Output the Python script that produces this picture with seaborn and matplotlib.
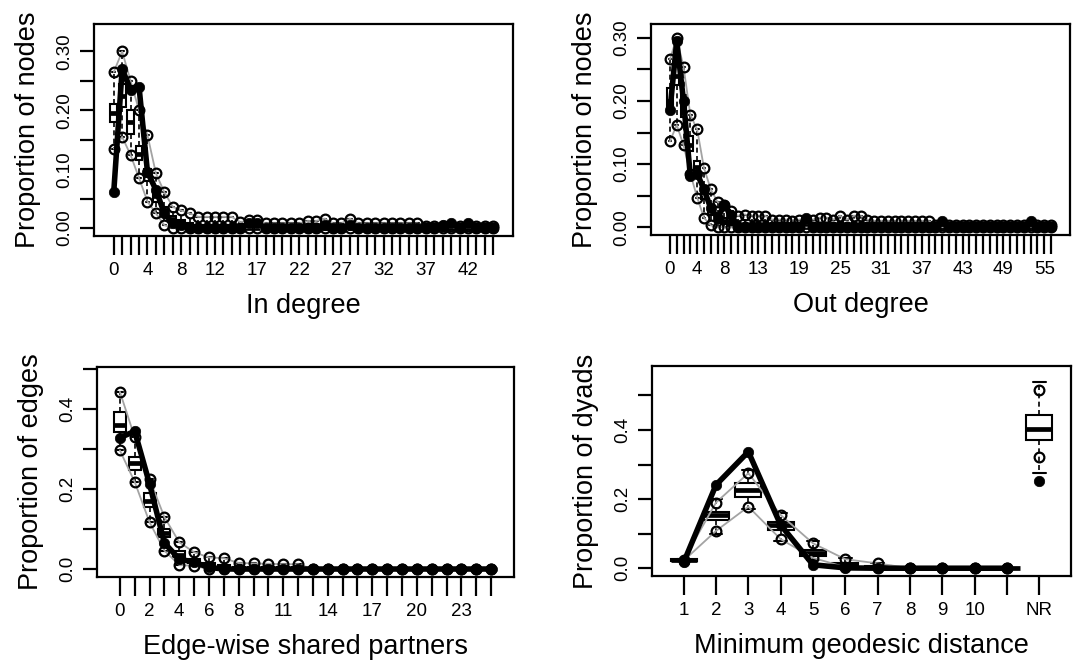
import matplotlib
matplotlib.use("Agg")
import matplotlib.pyplot as plt
import seaborn as sns

# ---- In degree (categories 0..45)
indeg_cat = list(range(46))
indeg_labeled = [0, 4, 8, 12, 17, 22, 27, 32, 37, 42]
indeg_obs = [0.061, 0.270, 0.235, 0.240, 0.095, 0.065, 0.025, 0.008, 0.005, 0,
             0, 0, 0, 0, 0, 0, 0.008, 0.008, 0, 0,
             0, 0, 0, 0, 0, 0.005, 0, 0, 0.005, 0,
             0, 0, 0, 0, 0, 0, 0, 0, 0, 0.005,
             0.008, 0, 0.008, 0, 0, 0]
indeg_hi = [0.265, 0.300, 0.250, 0.200, 0.158, 0.093, 0.061, 0.036, 0.030, 0.025,
            0.019, 0.019, 0.019, 0.019, 0.019, 0.010, 0.013, 0.013, 0.008, 0.008,
            0.008, 0.008, 0.008, 0.012, 0.012, 0.016, 0.008, 0.008, 0.016, 0.008,
            0.008, 0.008, 0.008, 0.008, 0.008, 0.008, 0.008, 0.003, 0.003, 0.003,
            0.003, 0.003, 0.003, 0.003, 0.003, 0.003]
indeg_lo = [0.135, 0.155, 0.124, 0.085, 0.045, 0.025, 0.005, 0, 0, 0,
            0, 0, 0, 0, 0, 0, 0, 0, 0, 0,
            0, 0, 0, 0, 0, 0, 0, 0, 0, 0,
            0, 0, 0, 0, 0, 0, 0, 0, 0, 0,
            0, 0, 0, 0, 0, 0]
indeg_med = [0.195, 0.225, 0.180, 0.125, 0.090, 0.055, 0.030, 0.015, 0.008, 0.005,
             0, 0, 0, 0, 0, 0, 0, 0, 0, 0,
             0, 0, 0, 0, 0, 0, 0, 0, 0, 0,
             0, 0, 0, 0, 0, 0, 0, 0, 0, 0,
             0, 0, 0, 0, 0, 0]
indeg_q1 = [0.180, 0.205, 0.160, 0.115, 0.080, 0.045, 0.020, 0.010, 0.005, 0,
            0, 0, 0, 0, 0, 0, 0, 0, 0, 0,
            0, 0, 0, 0, 0, 0, 0, 0, 0, 0,
            0, 0, 0, 0, 0, 0, 0, 0, 0, 0,
            0, 0, 0, 0, 0, 0]
indeg_q3 = [0.210, 0.245, 0.200, 0.140, 0.100, 0.065, 0.035, 0.020, 0.013, 0.008,
            0.005, 0.005, 0.005, 0.005, 0.005, 0.003, 0.003, 0.003, 0, 0,
            0, 0, 0, 0, 0, 0, 0, 0, 0, 0,
            0, 0, 0, 0, 0, 0, 0, 0, 0, 0,
            0, 0, 0, 0, 0, 0]

# ---- Out degree (categories 0..56)
outdeg_cat = list(range(57))
outdeg_labeled = [0, 4, 8, 13, 19, 25, 31, 37, 43, 49, 55]
outdeg_obs = [0.185, 0.295, 0.200, 0.081, 0.085, 0.060, 0.030, 0.015, 0.035, 0.020,
              0, 0, 0, 0, 0, 0, 0, 0, 0, 0,
              0.015, 0, 0, 0, 0, 0, 0, 0, 0, 0,
              0, 0, 0, 0, 0, 0, 0, 0, 0, 0,
              0.010, 0, 0, 0, 0, 0, 0, 0, 0, 0,
              0, 0, 0, 0.010, 0, 0, 0]
outdeg_hi = [0.266, 0.300, 0.254, 0.178, 0.155, 0.094, 0.060, 0.040, 0.035, 0.025,
             0.018, 0.020, 0.018, 0.018, 0.018, 0.012, 0.012, 0.012, 0.010, 0.012,
             0.012, 0.012, 0.015, 0.015, 0.012, 0.018, 0.012, 0.018, 0.018, 0.012,
             0.010, 0.010, 0.010, 0.010, 0.010, 0.010, 0.010, 0.010, 0.010, 0.004,
             0.004, 0.004, 0.004, 0.004, 0.004, 0.004, 0.004, 0.004, 0.004, 0.004,
             0.004, 0.004, 0.004, 0.004, 0.004, 0.004, 0.004]
outdeg_lo = [0.136, 0.162, 0.130, 0.085, 0.047, 0.015, 0.003, 0, 0, 0,
             0, 0, 0, 0, 0, 0, 0, 0, 0, 0,
             0, 0, 0, 0, 0, 0, 0, 0, 0, 0,
             0, 0, 0, 0, 0, 0, 0, 0, 0, 0,
             0, 0, 0, 0, 0, 0, 0, 0, 0, 0,
             0, 0, 0, 0, 0, 0, 0]
outdeg_med = [0.200, 0.240, 0.190, 0.130, 0.095, 0.055, 0.030, 0.015, 0.010, 0.005,
              0, 0, 0, 0, 0, 0, 0, 0, 0, 0,
              0, 0, 0, 0, 0, 0, 0, 0, 0, 0,
              0, 0, 0, 0, 0, 0, 0, 0, 0, 0,
              0, 0, 0, 0, 0, 0, 0, 0, 0, 0,
              0, 0, 0, 0, 0, 0, 0]
outdeg_q1 = [0.185, 0.225, 0.175, 0.120, 0.085, 0.045, 0.020, 0.010, 0.005, 0,
             0, 0, 0, 0, 0, 0, 0, 0, 0, 0,
             0, 0, 0, 0, 0, 0, 0, 0, 0, 0,
             0, 0, 0, 0, 0, 0, 0, 0, 0, 0,
             0, 0, 0, 0, 0, 0, 0, 0, 0, 0,
             0, 0, 0, 0, 0, 0, 0]
outdeg_q3 = [0.220, 0.260, 0.210, 0.145, 0.105, 0.065, 0.035, 0.020, 0.015, 0.010,
             0.005, 0.005, 0.005, 0.005, 0.005, 0.005, 0, 0, 0, 0,
             0, 0, 0, 0, 0, 0, 0, 0, 0, 0,
             0, 0, 0, 0, 0, 0, 0, 0, 0, 0,
             0, 0, 0, 0, 0, 0, 0, 0, 0, 0,
             0, 0, 0, 0, 0, 0, 0]

# ---- Edge-wise shared partners (categories 0..25)
esp_cat = list(range(26))
esp_labeled = [0, 2, 4, 6, 8, 11, 14, 17, 20, 23]
esp_obs = [0.329, 0.345, 0.213, 0.065, 0.025, 0.017, 0.004, 0, 0, 0,
           0, 0, 0, 0, 0, 0, 0, 0, 0, 0,
           0, 0, 0, 0, 0, 0]
esp_hi = [0.444, 0.330, 0.225, 0.130, 0.067, 0.042, 0.029, 0.027, 0.015, 0.014,
          0.013, 0.012, 0.012, 0, 0, 0, 0, 0, 0, 0,
          0, 0, 0, 0, 0, 0]
esp_lo = [0.297, 0.218, 0.117, 0.046, 0.010, 0.008, 0, 0, 0, 0,
          0, 0, 0, 0, 0, 0, 0, 0, 0, 0,
          0, 0, 0, 0, 0, 0]
esp_med = [0.360, 0.265, 0.170, 0.090, 0.035, 0.020, 0.010, 0.005, 0, 0,
           0, 0, 0, 0, 0, 0, 0, 0, 0, 0,
           0, 0, 0, 0, 0, 0]
esp_q1 = [0.343, 0.247, 0.155, 0.080, 0.030, 0.015, 0.005, 0, 0, 0,
          0, 0, 0, 0, 0, 0, 0, 0, 0, 0,
          0, 0, 0, 0, 0, 0]
esp_q3 = [0.393, 0.280, 0.190, 0.100, 0.045, 0.025, 0.015, 0.010, 0.005, 0.005,
          0.005, 0.005, 0.005, 0, 0, 0, 0, 0, 0, 0,
          0, 0, 0, 0, 0, 0]

# ---- Minimum geodesic distance (1..11, NR)
geo_cat = ["1", "2", "3", "4", "5", "6", "7", "8", "9", "10", "11", "NR"]
geo_labeled = ["1", "2", "3", "4", "5", "6", "7", "8", "9", "10", "NR"]
geo_obs = [0.017, 0.241, 0.337, 0.125, 0.010, 0.001, 0, 0, 0, 0, 0, 0.253]
geo_hi = [0.025, 0.190, 0.275, 0.154, 0.072, 0.026, 0.014, 0, 0, 0, 0, 0.515]
geo_lo = [0.022, 0.108, 0.178, 0.084, 0.030, 0.003, 0, 0, 0, 0, 0, 0.321]
geo_whi = [0.026, 0.200, 0.285, 0.160, 0.078, 0.030, 0.016, 0, 0, 0, 0, 0.540]
geo_wlo = [0.021, 0.100, 0.170, 0.080, 0.025, 0, 0, 0, 0, 0, 0, 0.276]
geo_med = [0.024, 0.155, 0.225, 0.125, 0.045, 0.010, 0.003, 0, 0, 0, 0, 0.402]
geo_q1 = [0.022, 0.140, 0.207, 0.110, 0.034, 0.005, 0, 0, 0, 0, 0, 0.371]
geo_q3 = [0.026, 0.164, 0.246, 0.135, 0.053, 0.015, 0.005, 0, 0, 0, 0, 0.443]


def gof_panel(ax, cats, labeled, med, q1, q3, wlo, whi, lo, hi, obs,
              xlabel, ylabel, yticks, yticklabels, ylim, nline=None):
    pos = list(range(1, len(cats) + 1))
    if nline is None:
        nline = len(pos)
    stats = [dict(med=m, q1=a, q3=b, whislo=wl, whishi=wh)
             for m, a, b, wl, wh in zip(med, q1, q3, wlo, whi)]
    ax.bxp(stats, positions=pos, widths=0.8, showfliers=False,
           patch_artist=True, manage_ticks=False,
           boxprops=dict(facecolor="white", edgecolor="black", linewidth=1.5),
           medianprops=dict(color="black", linewidth=3.4),
           whiskerprops=dict(color="black", linewidth=1.2, linestyle=(0, (3, 2))),
           capprops=dict(color="black", linewidth=1.5), zorder=2)

    circ = dict(color="#a3a3a3", linewidth=1.3, marker="o", markersize=7,
                markerfacecolor="none", markeredgecolor="black",
                markeredgewidth=1.6, zorder=3)
    for q in (lo, hi):
        sns.lineplot(x=pos[:nline], y=q[:nline], ax=ax, **circ)
        if nline < len(pos):
            sns.lineplot(x=pos[nline:], y=q[nline:], ax=ax, **circ)

    dots = dict(color="black", linewidth=4.0, marker="o", markersize=7.5,
                markeredgecolor="black", markeredgewidth=0.5, zorder=4)
    sns.lineplot(x=pos[:nline], y=obs[:nline], ax=ax, **dots)
    if nline < len(pos):
        sns.lineplot(x=pos[nline:], y=obs[nline:], ax=ax, **dots)

    n = len(pos)
    ax.set_xlim(0.5 - 0.04 * n, n + 0.5 + 0.04 * n)
    ax.set_ylim(*ylim)
    ax.set_xticks(pos)
    ax.set_xticklabels([str(c) if c in labeled else "" for c in cats])
    ax.set_yticks(yticks)
    ax.set_yticklabels(yticklabels, rotation=90, va="center")
    ax.tick_params(axis="x", length=14, width=1.6, pad=5, labelsize=13.5,
                   colors="black")
    ax.tick_params(axis="y", length=10, width=1.6, pad=5, labelsize=13.5,
                   colors="black")
    for sp in ax.spines.values():
        sp.set_linewidth(1.6)
        sp.set_color("black")
    ax.set_xlabel(xlabel, fontsize=19.5, labelpad=10, color="black")
    ax.set_ylabel(ylabel, fontsize=19.5, labelpad=11, color="black")


sns.set_style("ticks")
plt.rcParams["font.family"] = ["Liberation Sans", "DejaVu Sans"]
plt.rcParams["text.color"] = "black"

fig = plt.figure(figsize=(10.81, 6.67), dpi=100)
W, H = 1081, 667


def add_ax(x0, x1, y0, y1):
    return fig.add_axes([x0 / W, 1 - y1 / H, (x1 - x0) / W, (y1 - y0) / H])


ax1 = add_ax(94, 513, 24, 236)
ax2 = add_ax(651, 1070, 24, 235)
ax3 = add_ax(97, 514, 367, 577)
ax4 = add_ax(652, 1071, 366, 576)

deg_ticks = [0, 0.05, 0.10, 0.15, 0.20, 0.25, 0.30]
deg_labels = ["0.00", "", "0.10", "", "0.20", "", "0.30"]
prop_ticks = [0, 0.1, 0.2, 0.3, 0.4, 0.5]
prop_labels = ["0.0", "", "0.2", "", "0.4", ""]

gof_panel(ax1, indeg_cat, indeg_labeled, indeg_med, indeg_q1, indeg_q3,
          indeg_lo, indeg_hi, indeg_lo, indeg_hi, indeg_obs,
          "In degree", "Proportion of nodes", deg_ticks, deg_labels,
          (-0.0135, 0.3467))
gof_panel(ax2, outdeg_cat, outdeg_labeled, outdeg_med, outdeg_q1, outdeg_q3,
          outdeg_lo, outdeg_hi, outdeg_lo, outdeg_hi, outdeg_obs,
          "Out degree", "Proportion of nodes", deg_ticks, deg_labels,
          (-0.0124, 0.322))
gof_panel(ax3, esp_cat, esp_labeled, esp_med, esp_q1, esp_q3,
          esp_lo, esp_hi, esp_lo, esp_hi, esp_obs,
          "Edge-wise shared partners", "Proportion of edges",
          prop_ticks, prop_labels, (-0.02, 0.506))
gof_panel(ax4, geo_cat, geo_labeled, geo_med, geo_q1, geo_q3,
          geo_wlo, geo_whi, geo_lo, geo_hi, geo_obs,
          "Minimum geodesic distance", "Proportion of dyads",
          prop_ticks, prop_labels, (-0.0225, 0.585), nline=11)

fig.savefig("out.png", dpi=100, facecolor="white")
